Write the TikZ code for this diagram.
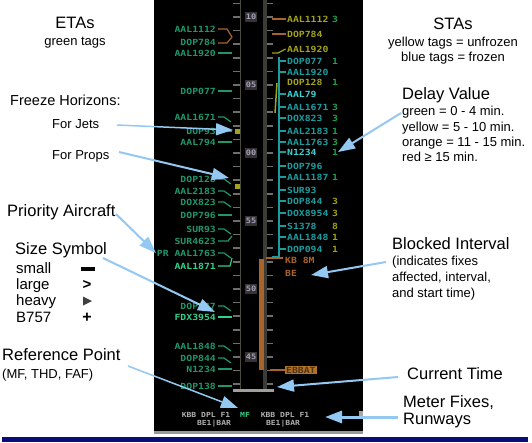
\documentclass[tikz,border=0pt]{standalone}
\usepackage{fontspec}
\setmainfont{Liberation Sans}
\newfontfamily\tagfont{DejaVu Sans Mono}[FakeStretch=1.15]
\usetikzlibrary{arrows.meta}
\definecolor{tg}{HTML}{20966A}
\definecolor{tgb}{HTML}{33D08C}
\definecolor{ty}{HTML}{A3A21C}
\definecolor{tc}{HTML}{1C9C9E}
\definecolor{tcb}{HTML}{3CD0D0}
\definecolor{ng}{HTML}{1FA050}
\definecolor{ny}{HTML}{A0A010}
\definecolor{orng}{HTML}{A8642A}
\definecolor{tlcol}{HTML}{4A4A3C}
\definecolor{tl2col}{HTML}{3C3C36}
\definecolor{tickcol}{HTML}{6E6E6E}
\definecolor{numbox}{HTML}{343434}
\definecolor{numtxt}{HTML}{A8A0B8}
\definecolor{callblue}{HTML}{93C8F3}
\definecolor{navy}{HTML}{0B0B7A}
\definecolor{btxt}{HTML}{B0B0B0}
\newcommand\tagconD[2]{\draw[#2, line width=1.2pt] ([xshift=2pt]#1.east) -- ++(14,0);}
\newcommand\tagconT[2]{\draw[#2, line width=1.2pt] ([xshift=2pt]#1.east) -- ++(6,0) -- ++(7,5);}
\newcommand\tagconN[2]{}
\begin{document}
\begin{tikzpicture}[x=1pt,y=-1pt,
  head/.style={font=\fontsize{16.5}{18}\selectfont, inner sep=0, anchor=base west},
  fh/.style={font=\fontsize{14.5}{16}\selectfont, inner sep=0, anchor=base west},
  sub/.style={font=\fontsize{13}{15}\selectfont, inner sep=0, anchor=base west},
  item/.style={font=\fontsize{15}{16}\selectfont, inner sep=0, anchor=base west},
  ltag/.style={font=\tagfont\bfseries\fontsize{8.5}{9}\selectfont, inner sep=0, anchor=east},
  rtag/.style={font=\tagfont\bfseries\fontsize{8.5}{9}\selectfont, inner sep=0, anchor=west},
  rnum/.style={font=\tagfont\bfseries\fontsize{8.5}{9}\selectfont, inner sep=0},
  btag/.style={font=\tagfont\bfseries\fontsize{7}{8}\selectfont, inner sep=0, text=btxt},
  tnum/.style={font=\tagfont\bfseries\fontsize{7.5}{8}\selectfont, fill=numbox, text=numtxt, inner sep=1pt, minimum width=11pt, minimum height=10pt},
  tick/.style={draw=tickcol, line width=1.6pt},
  callout/.style={draw=callblue, line width=2pt, -{Triangle[length=17pt,width=12pt,fill=callblue]}}
]
\useasboundingbox (0,0) rectangle (532,442);
\fill[white] (0,0) rectangle (532,442);
% panel
\fill[black] (154,0) rectangle (363,431);
\fill[gray!80] (154,431) rectangle (363,433.5);
\fill[gray!70] (359,411) rectangle (363,418);
\fill[navy] (2,437) rectangle (528,442);
% timeline
\draw[tlcol, line width=1.5pt] (240.5,0) -- (240.5,390);
\fill[tl2col] (262.5,0) rectangle (266.5,390);
\foreach \j in {-1,...,27} {
  \draw[tick] (233,{17+13.6*\j}) -- (240,{17+13.6*\j});
  \draw[tick] (267,{17+13.6*\j}) -- (273,{17+13.6*\j});
}
\foreach \ty/\tx [count=\i] in {17/10,85/05,153/00,221/55,289/50,357/45}
  \node[tnum] (T\i) at (251,\ty) {\tx};
% blocked interval
\fill[orng] (258.5,259) rectangle (263.5,370);
\draw[orng, line width=1.2pt] (266,258) -- (283,258);
\node[rtag, text=orng] (kb) at (285,260) {KB 8M};
\node[rtag, text=orng] (be) at (285,273) {BE};
\draw[orng, line width=1.2pt] (270,370) -- (285,370);
\node[rtag, fill=orng!90!yellow, text=orng!50!black, inner sep=1pt] (blk) at (285,370) {EBBAT};
% current time
\fill[gray!75] (233,389) rectangle (274,392);
% freeze horizon markers
\fill[ty] (235,129) rectangle (240,134);
\fill[ty] (235,184) rectangle (240,189);
% left tags
\foreach \ty/\tx/\tc/\tk [count=\i] in {
  29/AAL1112/tg/N, 42/DOP784/tg/N, 53/AAL1920/tg/D, 91/DOP077/tg/D,
  117/AAL1671/tg/T, 131/DOP93/tg/D, 142/AAL794/tg/D, 179/DOP128/tg/T,
  191/AAL2183/tg/T, 202/DOX823/tg/T, 215/DOP796/tg/D, 229/SUR93/tg/T,
  241/SUR4623/tg/N, 253/PR AAL1763/tg/T, 266/AAL1871/tgb/N, 306/DOP847/tg/T,
  317/FDX3954/tgb/D, 346/AAL1848/tg/T, 358/DOP844/tg/T, 369/N1234/tg/D,
  386/DOP138/tg/D} {
  \node[ltag, text=\tc] (L\i) at (216,\ty) {\tx};
  \csname tagcon\tk\endcsname{L\i}{\tc}
}
\draw[orng, line width=1.2pt] ([xshift=2pt]L1.east) -- ++(9,0) -- ++(5,8) -- ++(-5,6) -- ++(-9,0);
\draw[tg, line width=1.2pt] ([xshift=2pt]L13.east) -- ++(10,0) -- ++(4,-5);
\draw[tgb, line width=1.2pt] ([xshift=2pt]L15.east) -- ++(12,0) -- ++(2,-8);
% right tags
\foreach \ty/\tx/\tc [count=\i] in {
  19/AAL1112/ty, 34/DOP784/ty, 49/AAL1920/ty, 61/DOP077/tc, 72/AAL1920/tc,
  82/DOP128/ty, 94/AAL79/tcb, 107/AAL1671/tc, 118/DOX823/tc, 131/AAL2183/tc,
  142/AAL1763/tc, 152/N1234/tcb, 166/DOP796/tc, 177/AAL1187/tc, 190/SUR93/tc,
  201/DOP844/tc, 213/DOX8954/tc, 226/S1378/tc, 237/AAL1848/tc, 249/DOP094/tc}
  \node[rtag, text=\tc] (R\i) at (287,\ty) {\tx};
\foreach \i/\nx/\nc in {1/3/ng, 4/1/ng, 6/1/ng, 8/3/ng, 9/3/ng, 10/1/ng, 11/3/ng,
  12/1/ng, 14/1/ng, 16/3/ny, 17/3/ny, 18/8/ny, 19/1/ny, 20/1/ny}
  \node[rnum, text=\nc] (N\i) at (335,0 |- R\i.center) {\nx};
\draw[orng, line width=1.2pt] (272,19) -- ([xshift=-1.5pt]R1.west);
\draw[orng, line width=1.2pt] (272,34) -- ([xshift=-1.5pt]R2.west);
\draw[ty, line width=1.2pt] (272,53) -- (278,53) -- ([xshift=-1.5pt]R3.west);
\draw[ty, line width=1.5pt] (277,83) -- (275,113);
\draw[tc, line width=1.5pt] (279,57) -- (279,257) -- (272,257);
\foreach \i in {4,5,7,8,9,10,11,12,13,14,15,16,17,18,19,20}
  \draw[tc, line width=1.2pt] (279,0 |- R\i.west) -- ([xshift=-1.5pt]R\i.west);
% bottom meter fix labels
\node[btag] (mf1) at (206,415) {KBB DPL F1};
\node[btag, text=tgb] (mf2) at (245,415) {MF};
\node[btag] (mf3) at (285,415) {KBB DPL F1};
\node[btag] (rw1) at (214,424) {BE1|BAR};
\node[btag] (rw2) at (283,424) {BE1|BAR};
% annotations left
\node[head, anchor=base] (etas) at (75,28) {ETAs};
\node[sub, anchor=base] (etasub) at (75,45) {green tags};
\node[fh] (freeze) at (10,105) {Freeze Horizons:};
\node[sub] (jets) at (52,128) {For Jets};
\node[sub] (props) at (52,159) {For Props};
\node[head] (prio) at (7,216) {Priority Aircraft};
\node[head] (size) at (15,254) {Size Symbol};
\node[item] (small) at (16,273) {small};
\node[item] (large) at (16,289) {large};
\node[item] (heavy) at (16,305) {heavy};
\node[item] (b757) at (16,322) {B757};
\fill[black] (81,266.5) rectangle (95,270.5);
\node[item, anchor=base, font=\fontsize{15}{16}\selectfont\bfseries] (gt) at (87,289) {>};
\fill[black!75] (83,296.5) -- (92,301) -- (83,305.5) -- cycle;
\node[item, anchor=base, font=\fontsize{16}{16}\selectfont\bfseries] (plus) at (87,322) {+};
\node[head] (ref) at (2,360) {Reference Point};
\node[sub] (refsub) at (2,378) {(MF, THD, FAF)};
% annotations right
\node[head, anchor=base] (stas) at (453,29) {STAs};
\node[sub, anchor=base] (stasub1) at (453,46) {yellow tags = unfrozen};
\node[sub, anchor=base] (stasub2) at (453,61) {blue tags = frozen};
\node[head] (delay) at (402,99) {Delay Value};
\node[sub] (d1) at (402,115) {green = 0 - 4 min.};
\node[sub] (d2) at (402,131) {yellow = 5 - 10 min.};
\node[sub] (d3) at (402,146) {orange = 11 - 15 min.};
\node[sub] (d4) at (402,161) {red ≥ 15 min.};
\node[head] (blocked) at (392,249) {Blocked Interval};
\node[sub] (bl1) at (392,265) {(indicates fixes};
\node[sub] (bl2) at (392,281) {affected, interval,};
\node[sub] (bl3) at (392,297) {and start time)};
\node[head] (cur) at (407,379) {Current Time};
\node[head] (meter) at (403,407) {Meter Fixes,};
\node[head] (rwy) at (403,424) {Runways};
% callout arrows
\coordinate (jetsS) at (117,125);  \coordinate (jetsT) at (233,130);
\coordinate (propsS) at (119,152); \coordinate (propsT) at (229,178);
\coordinate (prioS) at (116,214);  \coordinate (prioT) at (156,253);
\coordinate (sizeS) at (103,258);  \coordinate (sizeT) at (215,312);
\coordinate (refS) at (128,366);   \coordinate (refT) at (238,408);
\coordinate (delayS) at (401,113); \coordinate (delayT) at (338,152);
\coordinate (blkS) at (386,262);   \coordinate (blkT) at (311,275);
\coordinate (curS) at (398,377);   \coordinate (curT) at (277,387);
\coordinate (metS) at (398,417);   \coordinate (metT) at (325,417);
\draw[callout, line width=1.5pt] (jetsS) -- (jetsT);
\draw[callout] (propsS) -- (propsT);
\draw[callout] (prioS) -- (prioT);
\draw[callout] (sizeS) -- (sizeT);
\draw[callout, line width=1.5pt] (refS) -- (refT);
\draw[callout] (delayS) -- (delayT);
\draw[callout] (blkS) -- (blkT);
\draw[callout] (curS) -- (curT);
\draw[callout, line width=3pt] (metS) -- (metT);
\end{tikzpicture}
\end{document}
